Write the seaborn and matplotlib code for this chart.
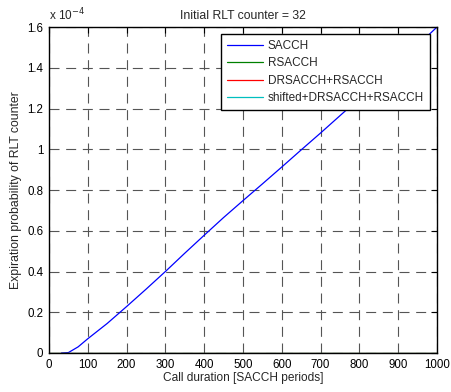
import numpy as np
import pandas as pd
import matplotlib
matplotlib.use('Agg')
import matplotlib.pyplot as plt
import seaborn as sns

# SACCH curve, values in units of 1e-4
sacch_x = [32, 50, 75, 100, 150, 200, 250, 300, 350, 400, 450, 500, 550, 600,
           650, 700, 750, 800, 850, 900, 950, 1000]
sacch_y = [0.0, 0.002, 0.03, 0.07, 0.145, 0.228, 0.313, 0.40, 0.49, 0.578, 0.665,
           0.748, 0.83, 0.913, 0.997, 1.08, 1.165, 1.25, 1.335, 1.42, 1.51, 1.6]
# the other three schemes never expire in this range
zero_x = [0, 1000]
zero_y = [0.0, 0.0]

series = ['SACCH', 'RSACCH', 'DRSACCH+RSACCH', 'shifted+DRSACCH+RSACCH']
colors = ['#0000ff', '#008000', '#ff0000', '#00bfbf']

frames = [pd.DataFrame({'x': sacch_x, 'y': sacch_y, 'scheme': series[0]})]
for name in series[1:]:
    frames.append(pd.DataFrame({'x': zero_x, 'y': zero_y, 'scheme': name}))
df = pd.concat(frames, ignore_index=True)

sns.set_style('white')
plt.rcParams['font.family'] = ['Liberation Sans', 'DejaVu Sans']

fig = plt.figure(figsize=(4.52, 3.92), dpi=100)
ax = fig.add_axes([0.1084, 0.0995, 0.8584, 0.8315])

sns.lineplot(data=df, x='x', y='y', hue='scheme', hue_order=series,
             palette=colors, linewidth=0.9, ax=ax, estimator=None, sort=False)

ax.set_xlim(0, 1000)
ax.set_ylim(0, 1.6)
ax.set_xticks(np.arange(0, 1001, 100))
ax.set_yticks(np.arange(0, 1.61, 0.2))
ax.set_yticklabels(['0', '0.2', '0.4', '0.6', '0.8', '1', '1.2', '1.4', '1.6'])
ax.grid(True, color='#555555', linestyle=(0, (9, 6)), linewidth=0.8)
ax.tick_params(direction='in', top=True, right=True, labelsize=8.3, length=4,
               width=0.8, pad=4, colors='black')
for s in ax.spines.values():
    s.set_color('black')
    s.set_linewidth(1.0)

ax.set_xlabel('Call duration [SACCH periods]', fontsize=8.6, labelpad=1)
ax.set_ylabel('Expiration probability of RLT counter', fontsize=8.8, labelpad=4)
ax.set_title('Initial RLT counter = 32', fontsize=8.8, pad=6)
ax.text(0.0, 1.012, r'x 10$^{-4}$', transform=ax.transAxes, fontsize=8.5,
        ha='left', va='bottom')

leg = ax.legend(loc='upper right', fontsize=8.5, frameon=True, fancybox=False,
                framealpha=1, borderaxespad=0.6, handlelength=3.1,
                labelspacing=0.45, borderpad=0.5, handletextpad=0.4)
leg.get_frame().set_edgecolor('black')
leg.get_frame().set_linewidth(1.0)

fig.savefig('out.png', dpi=100)
